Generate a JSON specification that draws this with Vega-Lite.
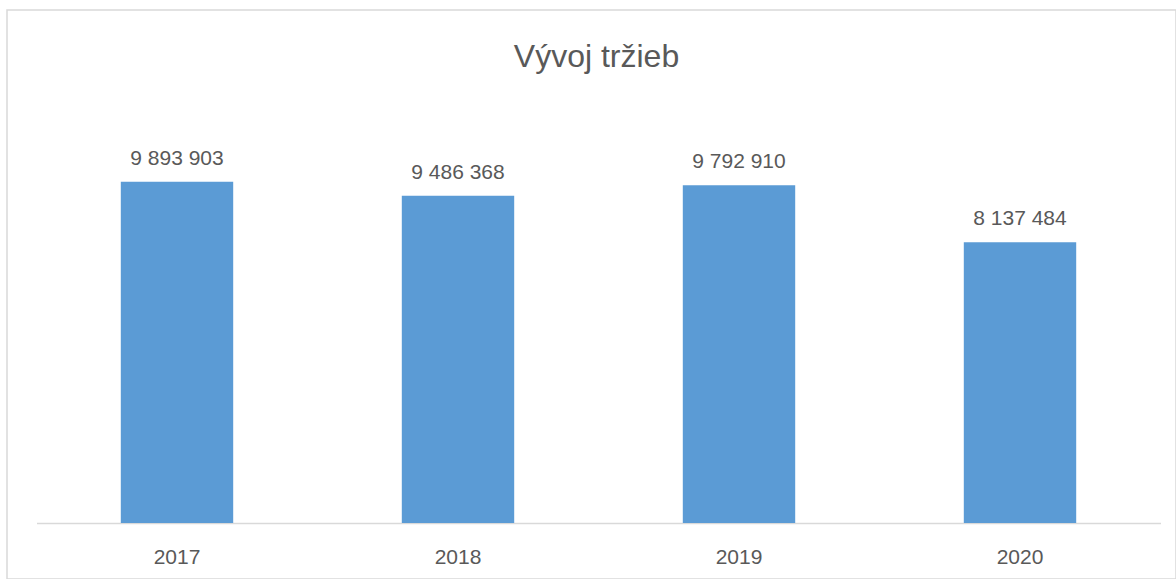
{
  "$schema": "https://vega.github.io/schema/vega-lite/v6.json",
  "autosize": "none",
  "padding": {"left": 7, "top": 10, "right": 0, "bottom": 0},
  "width": 1169,
  "height": 569,
  "background": "white",
  "config": {
    "locale": {"number": {"decimal": ",", "thousands": " ", "grouping": [3], "currency": ["", " €"]}},
    "view": {"stroke": "#d9d9d9", "strokeWidth": 1.5},
    "font": "Liberation Sans"
  },
  "title": {
    "text": "Vývoj tržieb",
    "anchor": "middle",
    "frame": "group",
    "orient": "top",
    "baseline": "alphabetic",
    "offset": -89,
    "dx": 5,
    "fontSize": 32,
    "fontWeight": "normal",
    "color": "#595959",
    "font": "Liberation Sans"
  },
  "data": {
    "values": [
      {"rok": "2017", "trzby": 9893903},
      {"rok": "2018", "trzby": 9486368},
      {"rok": "2019", "trzby": 9792910},
      {"rok": "2020", "trzby": 8137484}
    ]
  },
  "encoding": {
    "x": {
      "field": "rok",
      "type": "nominal",
      "scale": {"range": [29.5, 1153.5], "paddingInner": 0.6, "paddingOuter": 0.3},
      "axis": {
        "title": null,
        "orient": "bottom",
        "offset": -56,
        "labelAngle": 0,
        "domainColor": "#d9d9d9",
        "domainWidth": 1.5,
        "ticks": false,
        "tickSize": 0,
        "labelPadding": 40,
        "labelBaseline": "alphabetic",
        "labelFontSize": 21,
        "labelColor": "#595959",
        "labelFont": "Liberation Sans"
      }
    },
    "y": {
      "field": "trzby",
      "type": "quantitative",
      "scale": {"domain": [0, 12000000], "range": [513, 99], "nice": false},
      "axis": null
    }
  },
  "layer": [
    {"mark": {"type": "bar", "color": "#5b9bd5"}},
    {
      "mark": {"type": "text", "baseline": "alphabetic", "dy": -17, "fontSize": 21, "color": "#595959", "font": "Liberation Sans"},
      "encoding": {"text": {"field": "trzby", "type": "quantitative", "format": ",d"}}
    }
  ]
}
